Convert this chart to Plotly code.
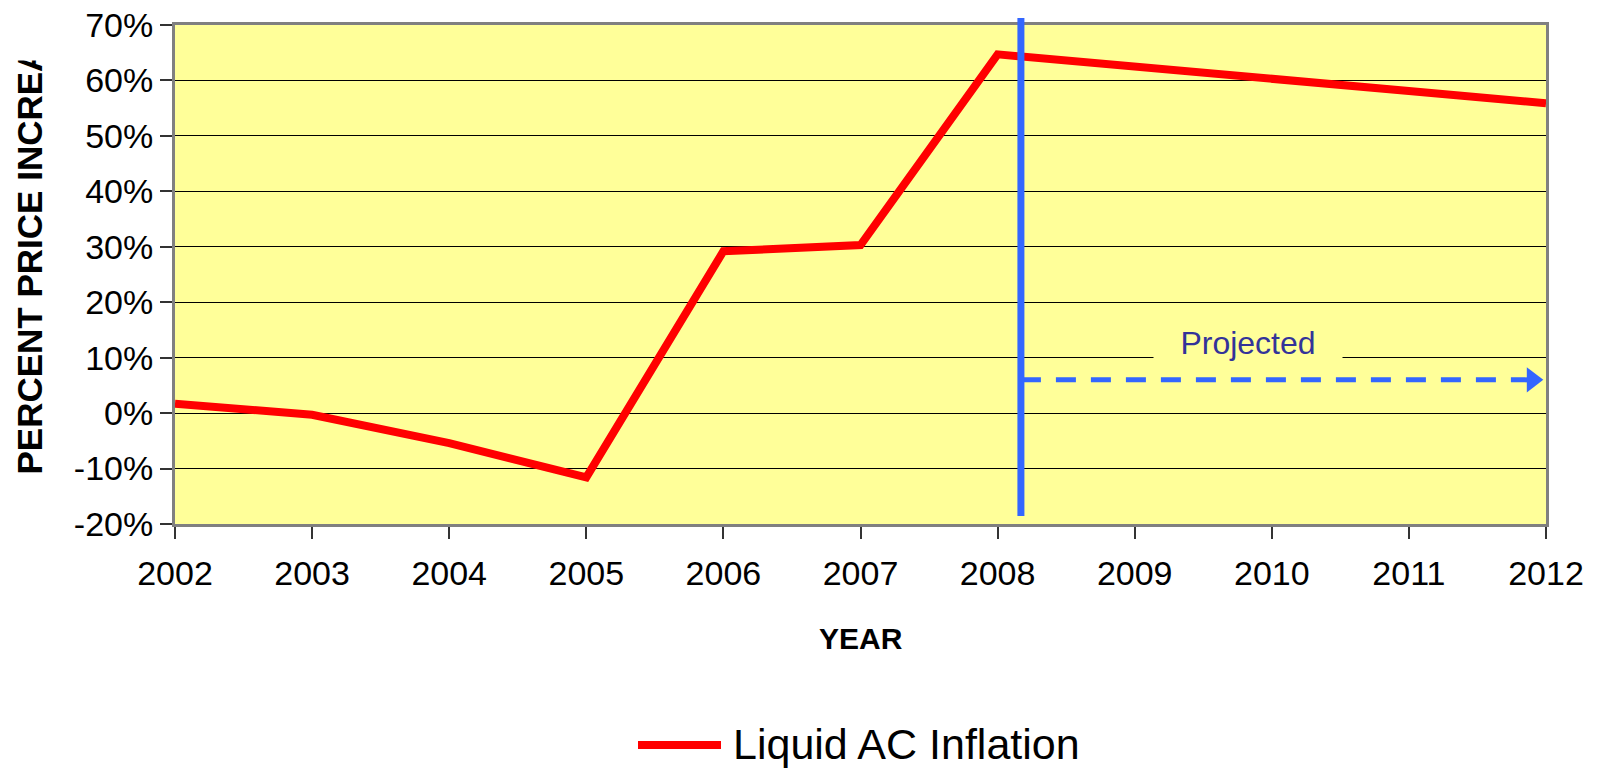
import plotly.graph_objects as go

# Data
years = [2002, 2003, 2004, 2005, 2006, 2007, 2008, 2009, 2010, 2011, 2012]
inflation = [1.7, -0.3, -5.4, -11.6, 29.2, 30.3, 64.7, 62.6, 60.3, 58.1, 55.9]
y_ticks = [-20, -10, 0, 10, 20, 30, 40, 50, 60, 70]
series_name = 'Liquid AC Inflation'

# Projection marker: divider between actual and projected values
divider_year = 2008.17
arrow_level = 6.0
arrow_end = 2011.9
projected_label_pos = (2009.83, 12.7)

FONT = 'Arial, Liberation Sans, sans-serif'
PLOT_BG = '#FFFF99'
BLUE = '#3366FF'

# full page size; body margin is removed in post_script so the figure sits at (0, 0)
W, H = 1608, 770
# plot area edges in page pixels: x 175..1546, y 25..524
L, T = 175, 25
R, B = W - 1546, H - 524
PW, PH = W - L - R, H - T - B


def px_x(px):
    """page pixel -> paper x"""
    return (px - L) / PW


def px_y(py):
    """page pixel -> paper y"""
    return (H - B - py) / PH


fig = go.Figure()

fig.add_trace(go.Scatter(
    x=years,
    y=inflation,
    mode='lines',
    name=series_name,
    line=dict(color='#FF0000', width=8),
    showlegend=False
))

# dashed "projected" arrow
fig.add_trace(go.Scatter(
    x=[divider_year, arrow_end],
    y=[arrow_level, arrow_level],
    mode='lines',
    line=dict(color=BLUE, width=5, dash='20px,15px'),
    showlegend=False,
    hoverinfo='skip'
))
fig.add_trace(go.Scatter(
    x=[arrow_end],
    y=[arrow_level],
    mode='markers',
    marker=dict(symbol='triangle-right', size=22, color=BLUE),
    showlegend=False,
    hoverinfo='skip',
    cliponaxis=False
))

# vertical divider line
fig.add_shape(
    type='line', xref='x', yref='paper',
    x0=divider_year, x1=divider_year,
    y0=px_y(516), y1=px_y(18),
    line=dict(color=BLUE, width=7)
)

# legend drawn by hand so the sample line is long like the original
fig.add_shape(
    type='line', xref='paper', yref='paper',
    x0=px_x(638), x1=px_x(721), y0=px_y(745), y1=px_y(745),
    line=dict(color='#FF0000', width=8)
)

annotations = [
    dict(text='Projected', x=projected_label_pos[0], y=projected_label_pos[1],
         xref='x', yref='y', showarrow=False, bgcolor=PLOT_BG, width=186,
         font=dict(family=FONT, size=32, color='#333399')),
    dict(text='<b>PERCENT PRICE INCREASE</b>', textangle=-90,
         xref='paper', yref='paper', x=px_x(29), y=px_y(477),
         xanchor='center', yanchor='bottom', showarrow=False,
         font=dict(family=FONT, size=35, color='black')),
    # the original chart clips the end of the axis title
    dict(text=' ', xref='paper', yref='paper', x=px_x(0), y=px_y(61),
         xanchor='left', yanchor='bottom', width=60, height=70,
         bgcolor='white', showarrow=False, borderpad=0),
    dict(text='<b>YEAR</b>', xref='paper', yref='paper',
         x=px_x(861), y=px_y(638), xanchor='center', yanchor='middle',
         showarrow=False, font=dict(family=FONT, size=30, color='black')),
    dict(text=series_name, xref='paper', yref='paper',
         x=px_x(731), y=px_y(744), xanchor='left', yanchor='middle',
         showarrow=False, font=dict(family=FONT, size=43, color='black')),
]

fig.update_layout(
    width=W,
    height=H,
    margin=dict(l=L, r=R, t=T, b=B, pad=0),
    paper_bgcolor='white',
    plot_bgcolor=PLOT_BG,
    showlegend=False,
    font=dict(family=FONT, size=34, color='black'),
    annotations=annotations,
    xaxis=dict(
        range=[years[0], years[-1]],
        tickmode='array',
        tickvals=years,
        ticktext=[str(y) for y in years],
        ticks='outside',
        ticklen=12,
        tickwidth=1.5,
        tickcolor='#333333',
        ticklabelstandoff=5,
        ticklabeloverflow='allow',
        automargin=False,
        showgrid=False,
        zeroline=False,
        showline=True,
        linecolor='#808080',
        linewidth=3,
        mirror=True
    ),
    yaxis=dict(
        range=[y_ticks[0], y_ticks[-1]],
        tickmode='array',
        tickvals=y_ticks,
        ticktext=[f'{v}%' for v in y_ticks],
        ticks='outside',
        ticklen=12,
        tickwidth=1.5,
        tickcolor='#333333',
        ticklabelstandoff=0,
        ticklabeloverflow='allow',
        automargin=False,
        showgrid=True,
        gridcolor='black',
        gridwidth=1,
        zeroline=False,
        showline=True,
        linecolor='#808080',
        linewidth=3,
        mirror=True
    )
)

fig.write_html('out.html', config={'displayModeBar': False},
               post_script="document.body.style.margin = '0';")
